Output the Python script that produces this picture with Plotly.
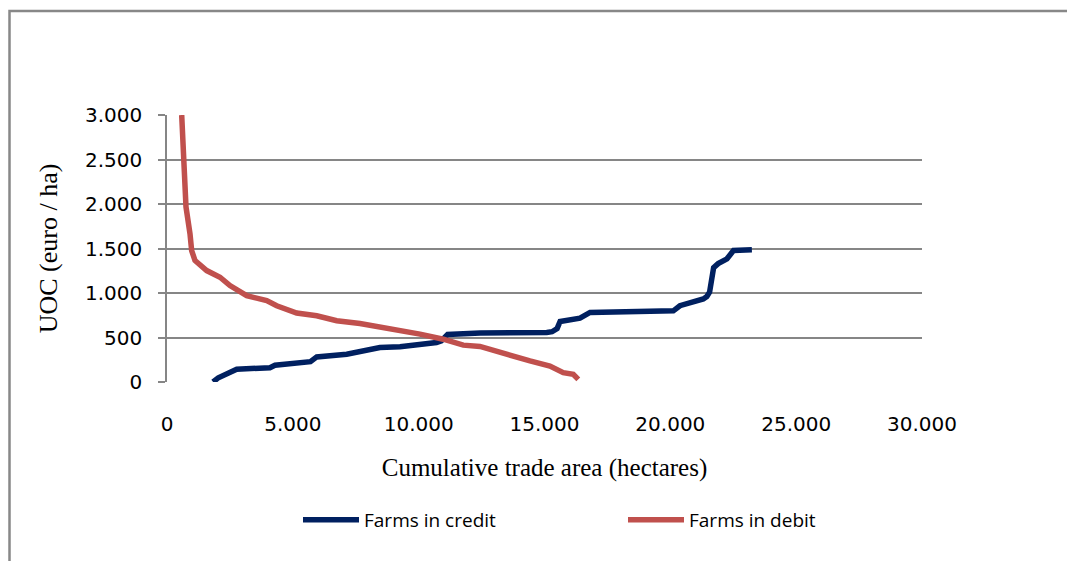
import plotly.graph_objects as go

# Farms in credit (cumulative area in ha, UOC in euro/ha)
credit_x = [1830, 2040, 2770, 4090, 4290, 5420, 5700, 5950, 7140, 8460, 9260, 10710,
            10900, 11150, 12440, 15090, 15300, 15500, 15620, 16410, 16810, 20120,
            20380, 21310, 21450, 21560, 21640, 21720, 21900, 22250, 22510, 23240]
credit_y = [0, 48, 143, 161, 188, 218, 228, 282, 312, 387, 395, 444,
            462, 535, 550, 556, 565, 600, 680, 718, 782, 800,
            857, 933, 960, 1010, 1150, 1285, 1330, 1384, 1477, 1485]

# Farms in debit
debit_x = [584, 648, 755, 914, 980, 1112, 1577, 2106, 2503, 3166, 3961, 4358, 5153,
           5948, 6743, 7668, 8992, 10052, 10979, 11773, 12436, 13627, 14422, 15216,
           15746, 16143, 16342]
debit_y = [3000, 2492, 1966, 1665, 1477, 1365, 1252, 1177, 1083, 970, 914, 857, 775,
           744, 688, 658, 594, 538, 481, 414, 400, 293, 237, 180,
           105, 87, 30]

x_ticks = [0, 5000, 10000, 15000, 20000, 25000, 30000]
x_tick_labels = ["0", "5.000", "10.000", "15.000", "20.000", "25.000", "30.000"]
y_ticks = [0, 500, 1000, 1500, 2000, 2500, 3000]
y_tick_labels = ["0", "500", "1.000", "1.500", "2.000", "2.500", "3.000"]

BLUE = "#002060"
RED = "#C0504D"
GRID = "#868686"

fig = go.Figure()
fig.add_trace(go.Scatter(x=credit_x, y=credit_y, mode="lines", name="Farms in credit",
                         line=dict(color=BLUE, width=5.5)))
fig.add_trace(go.Scatter(x=debit_x, y=debit_y, mode="lines", name="Farms in debit",
                         line=dict(color=RED, width=5.5)))

OFF = 8  # page offset of the figure inside the browser window
W, H = 1075, 561
L = 167 - OFF
T = 115 - OFF
pw, ph = 755, 267
R = W - L - pw
B = H - T - ph

def px_to_paper_x(px):
    return (px - OFF - L) / pw

def py_to_paper_y(py):
    return (T + ph - (py - OFF)) / ph

fig.update_layout(
    width=W, height=H,
    margin=dict(l=L, r=R, t=T, b=B, autoexpand=False),
    paper_bgcolor="white", plot_bgcolor="white",
    showlegend=True,
    legend=dict(orientation="h", x=px_to_paper_x(298), xanchor="left",
                y=py_to_paper_y(520), yanchor="middle",
                entrywidth=254, entrywidthmode="pixels",
                font=dict(family="Open Sans", size=19, color="black"),
                itemwidth=56, bgcolor="rgba(0,0,0,0)"),
    xaxis=dict(range=[0, 30000], tickvals=x_ticks, ticktext=x_tick_labels,
               showgrid=False, zeroline=False, showline=False, ticks="",
               ticklabelstandoff=28,
               tickfont=dict(family="DejaVu Sans", size=20, color="black"),
               title=dict(text="Cumulative trade area (hectares)", standoff=23,
                          font=dict(family="Liberation Serif", size=25, color="black"))),
    yaxis=dict(range=[0, 3000], tickvals=y_ticks, ticktext=y_tick_labels,
               showgrid=True, gridcolor=GRID, gridwidth=1.5,
               zeroline=False, showline=True, linecolor=GRID, linewidth=1.5,
               ticks="outside", ticklen=7, tickcolor=GRID, tickwidth=1.5,
               ticklabelstandoff=12,
               tickfont=dict(family="DejaVu Sans", size=20, color="black"),
               title=dict(text="UOC (euro / ha)", standoff=20,
                          font=dict(family="Liberation Serif", size=26, color="black"))),
    shapes=[dict(type="rect", xref="paper", yref="paper",
                 x0=px_to_paper_x(9.5), x1=px_to_paper_x(1090),
                 y0=py_to_paper_y(580), y1=py_to_paper_y(11),
                 line=dict(color="#888888", width=2.5), fillcolor="rgba(0,0,0,0)",
                 layer="below")],
)

fig.write_html("out.html")
